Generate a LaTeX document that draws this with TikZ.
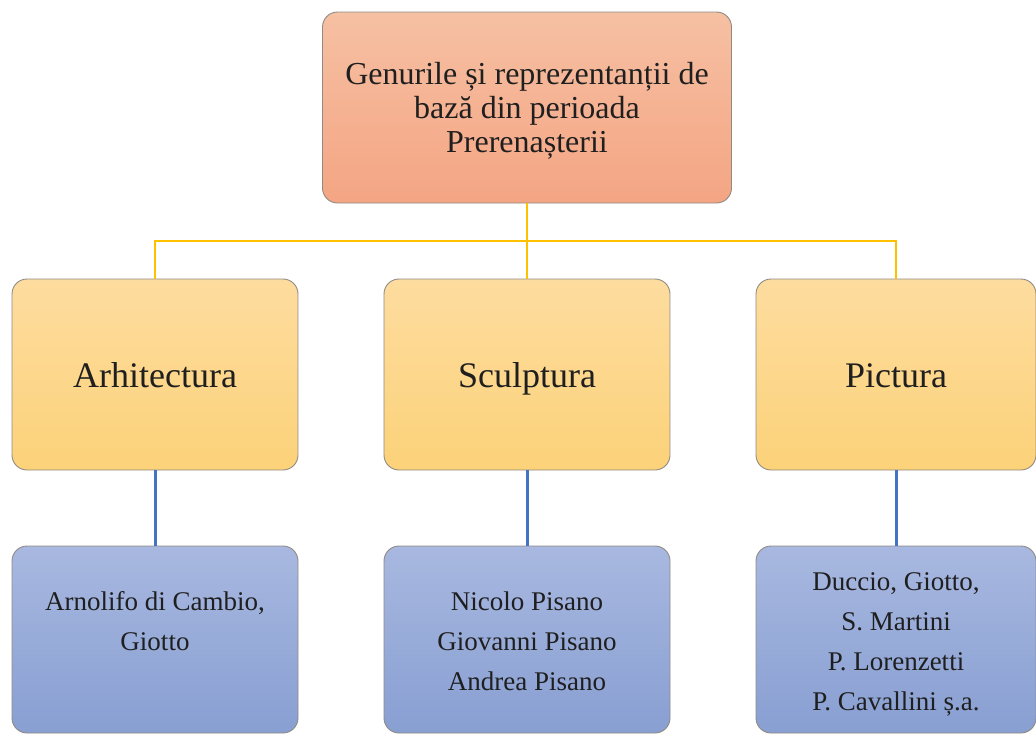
\documentclass[tikz,border=0pt]{standalone}
\usepackage{fontspec}
\setmainfont{Liberation Serif}
\definecolor{topA}{HTML}{F6C0A3}
\definecolor{topB}{HTML}{F4A583}
\definecolor{midA}{HTML}{FDDC9F}
\definecolor{midB}{HTML}{FCD279}
\definecolor{lowA}{HTML}{A8B8E0}
\definecolor{lowB}{HTML}{889FD2}
\definecolor{edgeC}{HTML}{8F8A84}
\definecolor{yl}{HTML}{FFC000}
\definecolor{bl}{HTML}{4472C4}
\newcommand{\toprule}{\rule{0pt}{32pt}}
\newcommand{\lowrule}{\rule{0pt}{34pt}}
\tikzset{
  boxbase/.style={draw=edgeC, line width=0.9pt, rounded corners=15pt, align=center,
    text=black!88, inner sep=0pt},
  topbox/.style={boxbase, top color=topA, bottom color=topB,
    minimum width=409pt, minimum height=191pt, font=\fontsize{32}{34}\selectfont},
  midbox/.style={boxbase, top color=midA, bottom color=midB,
    minimum width=286pt, minimum height=191pt, font=\fontsize{36}{43}\selectfont,
    text height=25pt, text depth=0pt},
  lowbox/.style={boxbase, top color=lowA, bottom color=lowB,
    minimum width=286pt, minimum height=187pt, font=\fontsize{27}{40}\selectfont},
  ylink/.style={draw=yl, line width=2.2pt},
  blink/.style={draw=bl, line width=3pt}
}
\begin{document}
\begin{tikzpicture}[x=1pt,y=-1pt]
\useasboundingbox (0,0) rectangle (1036,734);
\coordinate (hub) at (527,241);
\node[topbox] (top) at (527,107.5) {\toprule Genurile și reprezentanții de\\\strut bază din perioada\\\strut Prerenașterii};
\node[midbox] (arh) at (155,374.5) {Arhitectura};
\node[midbox] (scu) at (527,374.5) {Sculptura};
\node[midbox, minimum width=280pt] (pic) at (896,374.5) {Pictura};
\node[lowbox] (larh) at (155,639.5) {\lowrule Arnolifo di Cambio,\\\strut Giotto\\\strut};
\node[lowbox] (lscu) at (527,639.5) {\lowrule Nicolo Pisano\\\strut Giovanni Pisano\\\strut Andrea Pisano};
\node[lowbox, minimum width=280pt] (lpic) at (896,639.5) {\lowrule Duccio, Giotto,\\\strut S. Martini\\\strut P. Lorenzetti\\\strut P. Cavallini ș.a.};
\draw[ylink] (top.south) -- (hub);
\draw[ylink] (arh.north) |- (hub) -| (pic.north);
\draw[ylink] (hub) -- (scu.north);
\draw[blink] (arh.south) -- (larh.north);
\draw[blink] (scu.south) -- (lscu.north);
\draw[blink] (pic.south) -- (lpic.north);
\end{tikzpicture}
\end{document}
